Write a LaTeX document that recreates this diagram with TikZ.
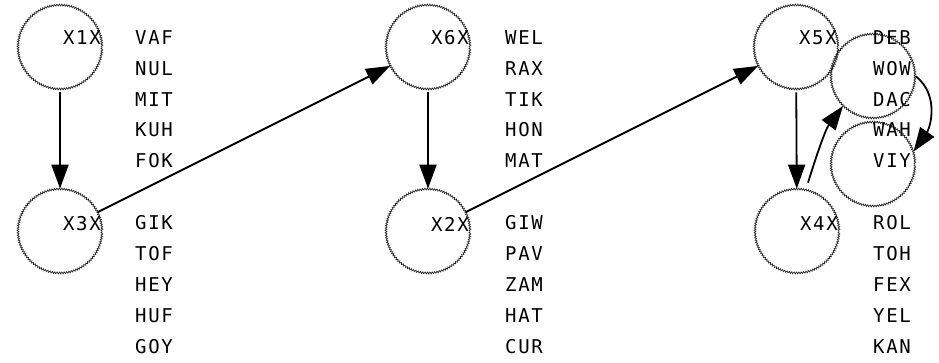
\documentclass[tikz,border=0pt]{standalone}
\usepackage{fontspec}
\newfontfamily\pixfont[LetterSpace=9]{DejaVu Sans Mono}
\usetikzlibrary{arrows.meta,decorations.pathmorphing}
\tikzset{
  ring/.style={circle, minimum size=84pt, inner sep=0pt, draw=black!85,
    line width=0.7pt, decorate,
    decoration={zigzag, segment length=2.4pt, amplitude=0.9pt}},
  word/.style={anchor=west, inner sep=0pt, font=\pixfont\fontsize{19}{19}\selectfont},
  tag/.style={anchor=east, inner sep=0pt, font=\pixfont\fontsize{19}{19}\selectfont},
  link/.style={line width=1.8pt, -{Triangle[length=24pt, width=17pt]}}
}
\begin{document}
\begin{tikzpicture}[x=1pt, y=-1pt]
\useasboundingbox (0,0) rectangle (939,363);

% variable nodes
\node[ring] (x1) at (60,47) {};
\node[ring] (x3) at (60,231) {};
\node[ring] (x6) at (428,47) {};
\node[ring] (x2) at (428,231) {};
\node[ring] (x5) at (796,47) {};
\node[ring] (x4) at (797,231) {};
\node[ring] (wow) at (873,76) {};
\node[ring] (viy) at (873,164) {};

% node names
\node[tag] (t1) at (101,38) {X1X};
\node[tag] (t3) at (101,224) {X3X};
\node[tag] (t6) at (469,38) {X6X};
\node[tag] (t2) at (469,224) {X2X};
\node[tag] (t5) at (837,38) {X5X};
\node[tag] (t4) at (838,224) {X4X};

% word columns
\foreach \col/\xx/\wA/\wB/\wC/\wD/\wE/\wF/\wG/\wH/\wI/\wJ in {
  a/135/VAF/NUL/MIT/KUH/FOK/GIK/TOF/HEY/HUF/GOY,
  b/505/WEL/RAX/TIK/HON/MAT/GIW/PAV/ZAM/HAT/CUR,
  c/873/DEB/WOW/DAC/WAH/VIY/ROL/TOH/FEX/YEL/KAN} {
  \node[word] (\col0) at (\xx,38) {\wA};
  \node[word] (\col1) at (\xx,69) {\wB};
  \node[word] (\col2) at (\xx,100) {\wC};
  \node[word] (\col3) at (\xx,130) {\wD};
  \node[word] (\col4) at (\xx,161) {\wE};
  \node[word] (\col6) at (\xx,223) {\wF};
  \node[word] (\col7) at (\xx,254) {\wG};
  \node[word] (\col8) at (\xx,285) {\wH};
  \node[word] (\col9) at (\xx,316) {\wI};
  \node[word] (\col10) at (\xx,347) {\wJ};
}

% connectors
\draw[link, shorten <=3pt] (x1) -- (x3);
\draw[link] (x3) -- (x6);
\draw[link, shorten <=3pt] (x6) -- (x2);
\draw[link] (x2) -- (x5);
\draw[link, shorten <=3pt] (x5) -- (x4);
\draw[link] ([xshift=11pt,yshift=6pt]x4.north) .. controls (815,160) and (825,130) .. (wow.-135);
\draw[link] (wow.east) .. controls (940,95) and (930,128) .. (viy.17);
\end{tikzpicture}
\end{document}
